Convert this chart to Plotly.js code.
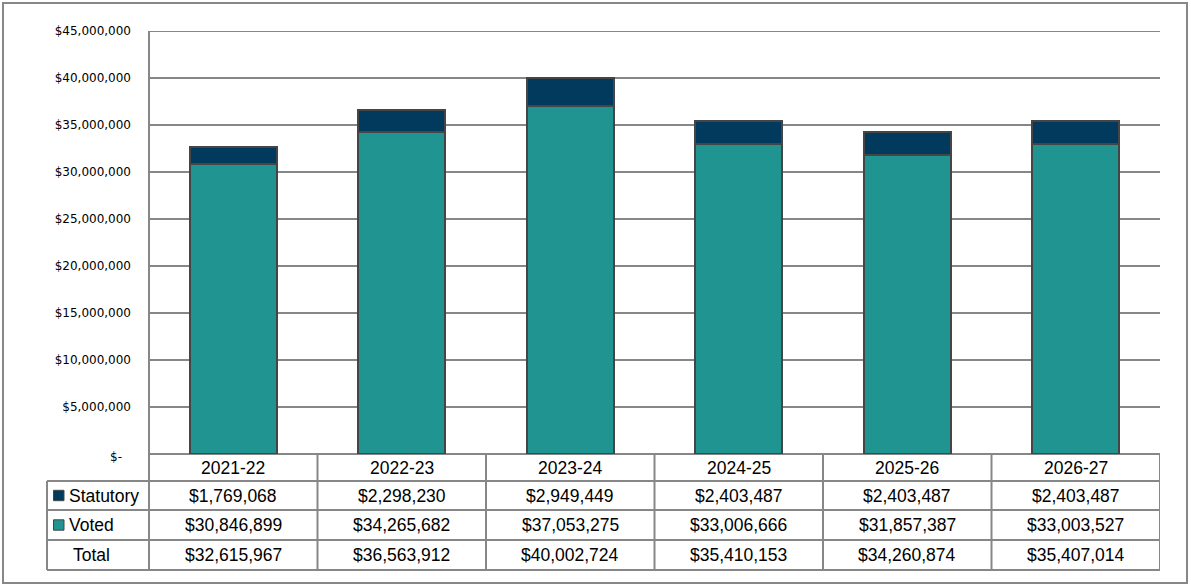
<!DOCTYPE html>
<html>
<head>
<meta charset="utf-8">
<script src="https://cdn.plot.ly/plotly-3.0.1.min.js"></script>
<style>html,body{margin:0;padding:0;background:#fff}#chart{width:1191px;height:587px}</style>
</head>
<body>
<div id="chart"></div>
<script>
var years = ['2021-22', '2022-23', '2023-24', '2024-25', '2025-26', '2026-27'];
var statutory = [1769068, 2298230, 2949449, 2403487, 2403487, 2403487];
var voted = [30846899, 34265682, 37053275, 33006666, 31857387, 33003527];
var totals = [32615967, 36563912, 40002724, 35410153, 34260874, 35407014];
var yTickVals = [5000000, 10000000, 15000000, 20000000, 25000000, 30000000, 35000000, 40000000, 45000000];
var seriesNames = ['Statutory', 'Voted', 'Total'];

var colVoted = '#1F9490';
var colStat = '#023A5D';
var lineGrey = '#878787';
var outline = '#454545';

function money(v) { return '$' + v.toLocaleString('en-US'); }

// pixel geometry
var W = 1191, H = 587;
var L = 149, R = 1160, T = 31, B = 454;
var pw = R - L, ph = B - T;
function px(x) { return (x - L) / pw; }
function py(y) { return (B - y) / ph; }

var traces = [
  { type: 'bar', x: years, y: voted, name: 'Voted', marker: { color: colVoted, line: { color: outline, width: 2 } }, hoverinfo: 'x+y' },
  { type: 'bar', x: years, y: statutory, name: 'Statutory', marker: { color: colStat, line: { color: outline, width: 2 } }, hoverinfo: 'x+y' }
];

var shapes = [];
function line(x0, y0, x1, y1, xref, yref) {
  shapes.push({ type: 'line', xref: xref || 'paper', yref: yref || 'paper', x0: x0, y0: y0, x1: x1, y1: y1, line: { color: lineGrey, width: 2 }, layer: 'below' });
}
// outer border
shapes.push({ type: 'rect', xref: 'paper', yref: 'paper', x0: px(3), x1: px(1187), y0: py(3), y1: py(583), line: { color: lineGrey, width: 2 }, fillcolor: 'rgba(0,0,0,0)', layer: 'below' });
// top gridline at the range edge
line(0, yTickVals[yTickVals.length - 1], 1, yTickVals[yTickVals.length - 1], 'paper', 'y');
// table horizontal lines
line(px(L), py(454), px(R), py(454));
[481, 510, 540, 570].forEach(function (y) { line(px(47), py(y), px(R), py(y)); });
// verticals
line(px(L), py(T), px(L), py(570));
line(px(47), py(481), px(47), py(570));
for (var i = 0; i < years.length; i++) {
  line(i + 0.5, py(454), i + 0.5, py(570), 'x');
}

var annotations = [];
var rowY = { head: 467.5, stat: 495.5, voted: 525, total: 555 };
var tfont = { family: 'Liberation Sans, Arial, sans-serif', size: 17.5, color: '#000' };
years.forEach(function (yr, i) {
  annotations.push({ xref: 'x', yref: 'paper', x: yr, y: py(rowY.head), text: yr, showarrow: false, font: tfont, xanchor: 'center', yanchor: 'middle' });
  annotations.push({ xref: 'x', yref: 'paper', x: yr, y: py(rowY.stat), text: money(statutory[i]), showarrow: false, font: tfont, xanchor: 'center', yanchor: 'middle' });
  annotations.push({ xref: 'x', yref: 'paper', x: yr, y: py(rowY.voted), text: money(voted[i]), showarrow: false, font: tfont, xanchor: 'center', yanchor: 'middle' });
  annotations.push({ xref: 'x', yref: 'paper', x: yr, y: py(rowY.total), text: money(totals[i]), showarrow: false, font: tfont, xanchor: 'center', yanchor: 'middle' });
});
[[seriesNames[0], rowY.stat, colStat, 66.5], [seriesNames[1], rowY.voted, colVoted, 66.5], [seriesNames[2], rowY.total, null, 70.5]].forEach(function (r) {
  annotations.push({ xref: 'paper', yref: 'paper', x: px(r[3]), y: py(r[1]), text: r[0], showarrow: false, font: tfont, xanchor: 'left', yanchor: 'middle' });
  if (r[2]) {
    shapes.push({ type: 'rect', xref: 'paper', yref: 'paper', x0: px(53.5), x1: px(64), y0: py(r[1] - 5.2), y1: py(r[1] + 5.2), fillcolor: r[2], line: { color: outline, width: 1 } });
  }
});
var tickFont = { family: 'DejaVu Sans, sans-serif', size: 12, color: '#000' };
// zero label
annotations.push({ xref: 'paper', yref: 'y', x: px(124), y: 0, text: '$-', showarrow: false, xanchor: 'right', yanchor: 'middle', yshift: -3, font: tickFont });

var layout = {
  width: W, height: H,
  margin: { l: L, r: W - R, t: T, b: H - B, pad: 0 },
  paper_bgcolor: '#fff', plot_bgcolor: '#fff',
  barmode: 'stack', bargap: 0.485,
  showlegend: false,
  xaxis: { type: 'category', showticklabels: false, showgrid: false, zeroline: false, showline: false, ticks: '', fixedrange: true, range: [-0.5, 5.5] },
  yaxis: {
    range: [0, 45000000], tickvals: yTickVals, ticktext: yTickVals.map(money),
    showgrid: true, gridcolor: lineGrey, gridwidth: 2, zeroline: false, showline: false,
    ticks: '', ticklabelstandoff: 17,
    tickfont: tickFont
  },
  shapes: shapes,
  annotations: annotations
};
Plotly.newPlot('chart', traces, layout, { displayModeBar: false, staticPlot: true });
</script>
</body>
</html>
